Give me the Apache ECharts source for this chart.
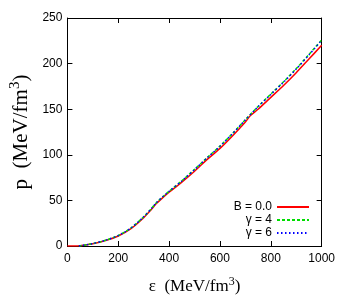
<!DOCTYPE html>
<html><head><meta charset="utf-8">
<script src="https://cdn.jsdelivr.net/npm/echarts@6/dist/echarts.min.js"></script>
<style>html,body{margin:0;padding:0;background:#fff}#c{width:338px;height:305px}</style>
</head><body><div id="c"></div>
<script>
const epsB0 = [0, 25, 50, 100, 150, 200, 250, 300, 330, 350, 375, 400, 450, 500, 550, 600, 650, 700, 720, 750, 800, 850, 900, 950, 1000];
const pB0 =   [0, 0, 0.3, 2.5, 6, 11, 19, 31, 40, 46.5, 53, 59, 70, 82, 95, 107, 121, 136, 143, 150, 163, 176, 190, 205, 220];
const epsG4 = [45, 100, 150, 200, 250, 300, 330, 350, 375, 400, 450, 500, 550, 600, 650, 700, 750, 800, 850, 900, 950, 1000];
const pG4 =   [0, 2.7, 6.3, 11.5, 19.8, 32, 41, 47.5, 54, 60, 71.5, 84, 97, 109.5, 123.5, 138.5, 153, 166.5, 180, 194.5, 210, 226];
const epsG6 = [45, 100, 150, 200, 250, 300, 330, 350, 375, 400, 450, 500, 550, 600, 650, 700, 750, 800, 850, 900, 950, 1000];
const pG6 =   [0, 2.7, 6.3, 11.5, 19.7, 32, 41, 47.5, 54, 60, 71.3, 83.8, 96.8, 109.3, 123.3, 138.3, 152.8, 166.2, 179.6, 194, 209.5, 225.5];
const seriesNames = ['B = 0.0', 'γ = 4', 'γ = 6'];
const xTicks = [0, 200, 400, 600, 800, 1000];
const yTicks = [0, 50, 100, 150, 200, 250];

const zip = (a, b) => a.map((v, i) => [v, b[i]]);
const chart = echarts.init(document.getElementById('c'), null, {renderer: 'canvas'});
const tickFont = {fontFamily: 'Liberation Sans', fontSize: 12, color: '#000', formatter: v => String(v)};
const axisLine = {show: true, onZero: false, lineStyle: {color: '#000', width: 1}};
const axisTick = {show: true, inside: true, length: 5, lineStyle: {color: '#000', width: 1}};
const xRich = {
  t: {fontFamily: 'Liberation Serif', fontSize: 17, color: '#000'},
  s: {fontFamily: 'Liberation Serif', fontSize: 12, color: '#000', padding: [0, 0, 9, 0]}
};
const yRich = {
  t: {fontFamily: 'Liberation Serif', fontSize: 21, color: '#000'},
  s: {fontFamily: 'Liberation Serif', fontSize: 15, color: '#000', padding: [0, 0, 11, 0]}
};
chart.setOption({
  animation: false,
  grid: {left: 67, right: 16, top: 18, bottom: 59},
  legend: {
    orient: 'vertical', right: 23, top: 196, align: 'right',
    itemWidth: 32, itemHeight: 8, itemGap: 1,
    itemStyle: {opacity: 0},
    textStyle: {fontFamily: 'Liberation Sans', fontSize: 12, color: '#000'},
    data: seriesNames
  },
  xAxis: [{
    type: 'value', min: xTicks[0], max: xTicks[xTicks.length - 1], interval: 200,
    axisLine, axisTick, splitLine: {show: false},
    axisLabel: Object.assign({margin: 7}, tickFont),
    name: '{t|ε  (MeV/fm}{s|3}{t|)}', nameLocation: 'middle', nameGap: 30,
    nameTextStyle: {rich: xRich}
  }, {
    type: 'value', position: 'top', min: 0, max: 1000, interval: 200,
    axisLine, axisTick, axisLabel: {show: false}, splitLine: {show: false}
  }],
  yAxis: [{
    type: 'value', min: yTicks[0], max: yTicks[yTicks.length - 1], interval: 50,
    axisLine, axisTick, splitLine: {show: false},
    axisLabel: Object.assign({margin: 5}, tickFont),
    name: '{t|p  (MeV/fm}{s|3}{t|)}', nameLocation: 'middle', nameGap: 33,
    nameTextStyle: {rich: yRich}
  }, {
    type: 'value', position: 'right', min: 0, max: 250, interval: 50,
    axisLine, axisTick, axisLabel: {show: false}, splitLine: {show: false}
  }],
  series: [
    {name: seriesNames[0], type: 'line', data: zip(epsB0, pB0), symbol: 'none', smooth: 0.3, z: 1,
     lineStyle: {color: '#ff0000', width: 1.5}, itemStyle: {color: '#ff0000'}},
    {name: seriesNames[1], type: 'line', data: zip(epsG4, pG4), symbol: 'none', smooth: 0.3, z: 2,
     lineStyle: {color: '#00dd00', width: 1.5, type: [3, 2]}, itemStyle: {color: '#00dd00'}},
    {name: seriesNames[2], type: 'line', data: zip(epsG6, pG6), symbol: 'none', smooth: 0.3, z: 3,
     lineStyle: {color: '#0000ff', width: 1.5, type: [1.5, 2.5]}, itemStyle: {color: '#0000ff'}}
  ]
});
</script></body></html>
